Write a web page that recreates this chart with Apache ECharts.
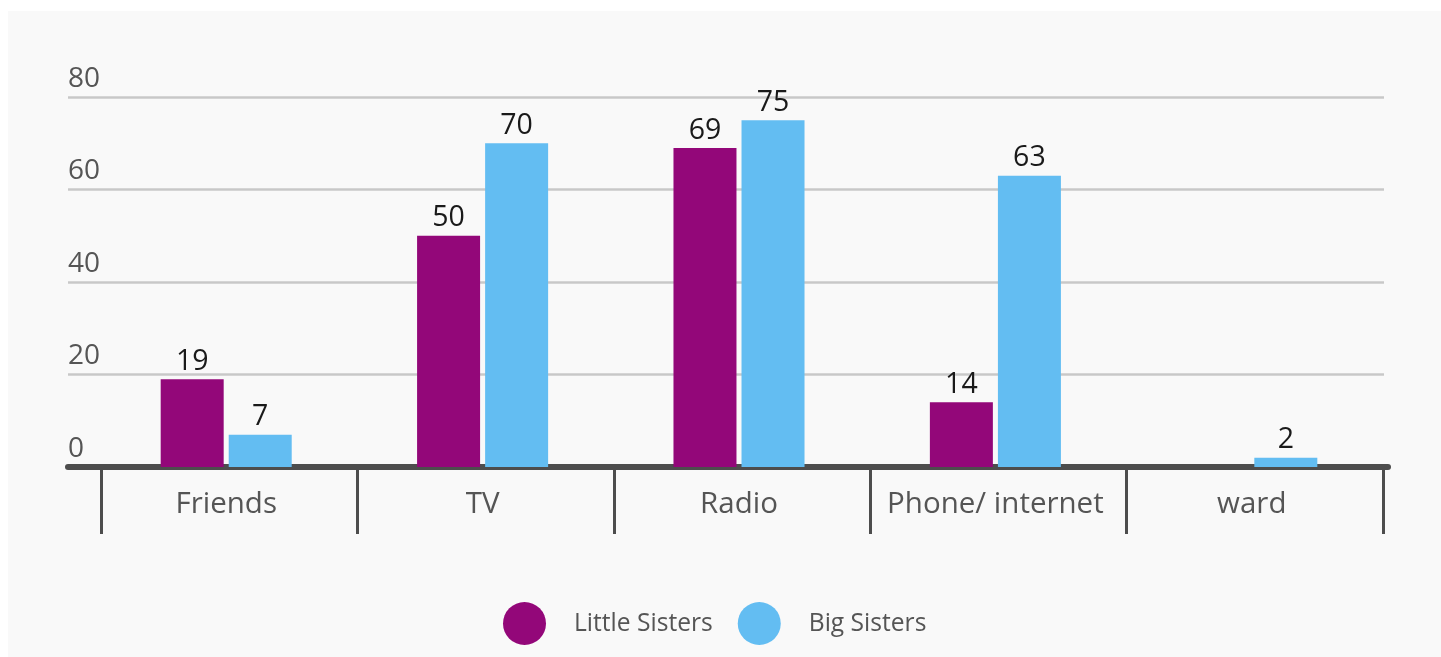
<!DOCTYPE html>
<html>
<head>
<meta charset="utf-8">
<script src="https://cdn.jsdelivr.net/npm/echarts@6/dist/echarts.min.js"></script>
<style>
  html, body { margin: 0; padding: 0; background: #ffffff; }
  #wrap { position: absolute; left: 8px; top: 11px; width: 1433px; height: 646px; background: #f9f9f9; }
  #chart { position: absolute; left: 0; top: 0; width: 1441px; height: 657px; }
</style>
</head>
<body>
<div id="wrap"></div>
<div id="chart"></div>
<script>
const categories = ['Friends', 'TV', 'Radio', 'Phone/ internet', 'ward'];
const littleSisters = [19, 50, 69, 14, null];
const bigSisters = [7, 70, 75, 63, 2];
const seriesNames = ['Little Sisters', 'Big Sisters'];
const yMin = 0, yMax = 80, yStep = 20;

const FONT = '"Open Sans", sans-serif';
const PURPLE = '#930779';
const BLUE = '#63bdf2';
const AXIS = '#4d4d4d';

const chart = echarts.init(document.getElementById('chart'), null, { renderer: 'canvas' });

const gTop = 97, gBottom = 190;
const hiddenY = (gi) => ({ type: 'value', gridIndex: gi, min: yMin, max: yMax, interval: yStep, show: false });

chart.setOption({
  backgroundColor: 'transparent',
  textStyle: { fontFamily: FONT },
  grid: [
    { left: 68, right: 57, top: gTop, bottom: gBottom },   // gridlines + y labels
    { left: 98, right: 61, top: gTop, bottom: gBottom },   // bars + category labels
    { left: 101, right: 58, top: gTop, bottom: gBottom },  // category ticks
    { left: 68, right: 53, top: gTop, bottom: gBottom }    // thick axis line
  ],
  xAxis: [
    { type: 'category', gridIndex: 0, data: categories, show: false },
    { type: 'category', gridIndex: 1, data: categories,
      axisLine: { show: false }, axisTick: { show: false },
      axisLabel: { color: '#555555', fontSize: 29.5, fontFamily: FONT, margin: 23, interval: 0 } },
    { type: 'category', gridIndex: 2, data: categories, offset: 3,
      axisLine: { show: false },
      axisTick: { show: true, length: 67, lineStyle: { color: AXIS, width: 3 } },
      axisLabel: { show: false } },
    { type: 'category', gridIndex: 3, data: categories, offset: 3,
      axisLine: { show: true, lineStyle: { color: AXIS, width: 6 } },
      axisTick: { show: false }, axisLabel: { show: false } }
  ],
  yAxis: [
    { type: 'value', gridIndex: 0, min: yMin, max: yMax, interval: yStep,
      axisLine: { show: false }, axisTick: { show: false },
      splitLine: { show: true, lineStyle: { color: '#c8c8c8', width: 2.5 } },
      axisLabel: { inside: true, margin: 0, color: '#555555', fontSize: 28, fontFamily: FONT,
                   align: 'left', verticalAlign: 'bottom', padding: [0, 0, 4, 0] } },
    hiddenY(1), hiddenY(2), hiddenY(3)
  ],
  legend: {
    data: seriesNames,
    left: 503, top: 602, padding: 0,
    icon: 'circle', itemWidth: 43, itemHeight: 43, itemGap: 25,
    textStyle: { color: '#555555', fontSize: 24.6, fontFamily: FONT, padding: [0, 0, 0, 23] }
  },
  series: [
    { name: seriesNames[0], type: 'bar', xAxisIndex: 1, yAxisIndex: 1, data: littleSisters,
      barWidth: 63, barGap: '8%', itemStyle: { color: PURPLE },
      label: { show: true, position: 'top', distance: 3, color: '#1a1a1a', fontSize: 28.5, fontFamily: FONT } },
    { name: seriesNames[1], type: 'bar', xAxisIndex: 1, yAxisIndex: 1, data: bigSisters,
      barWidth: 63, barGap: '8%', itemStyle: { color: BLUE },
      label: { show: true, position: 'top', distance: 3, color: '#1a1a1a', fontSize: 28.5, fontFamily: FONT } }
  ]
});
</script>
</body>
</html>
